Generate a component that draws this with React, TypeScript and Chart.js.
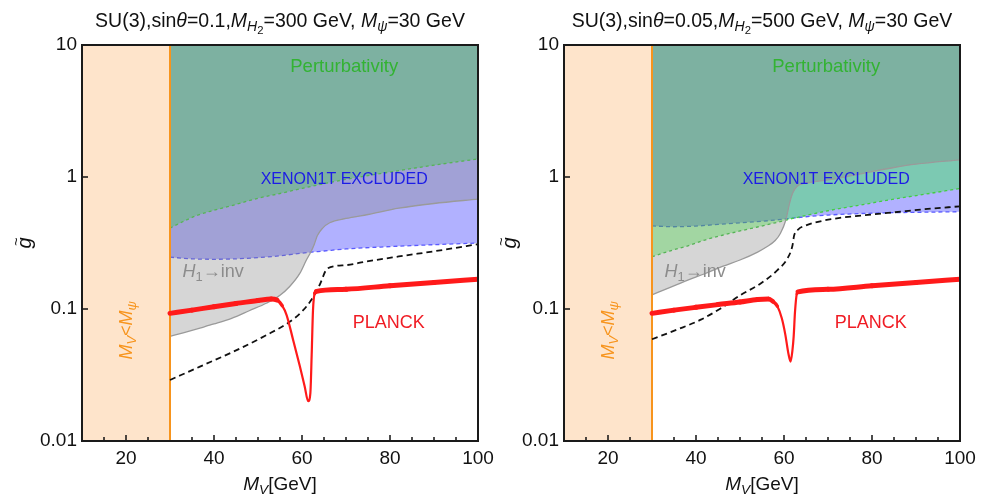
import React, { useEffect, useRef } from "react";
import { Chart, registerables } from "chart.js";

Chart.register(...registerables);

const FONT = '"Liberation Sans", Arial, Helvetica, sans-serif';

// Shared axes
const MV_MIN = 10;
const MV_MAX = 100;
const G_MIN = 0.01;
const G_MAX = 10;
const xLabelTicks = [20, 40, 60, 80, 100];
const xMinorTicks = [15, 25, 35, 45, 50, 55, 65, 70, 75, 85, 90, 95];
const yLabelTicks = [0.01, 0.1, 1, 10];
const M_PSI = 30;

// Panel A: sinθ = 0.1, M_H2 = 300 GeV
const aPertMV = [30, 33, 36, 40, 45, 50, 55, 60, 65, 70, 80, 90, 100];
const aPertG = [0.41, 0.46, 0.51, 0.56, 0.62, 0.69, 0.75, 0.82, 0.89, 0.96, 1.09, 1.23, 1.37];
const aXenonMV = [30, 35, 40, 45, 50, 55, 60, 65, 70, 80, 90, 100];
const aXenonG = [0.247, 0.24, 0.238, 0.24, 0.245, 0.253, 0.265, 0.275, 0.285, 0.297, 0.307, 0.316];
const aInvMV = [30, 33, 37, 40, 44, 48, 52, 55, 57.2, 59.5, 61, 62, 62.8, 63.5, 64.7, 66.3, 70, 75, 82, 90, 100];
const aInvG = [0.062, 0.066, 0.072, 0.077, 0.085, 0.097, 0.111, 0.127, 0.148, 0.186, 0.235, 0.27, 0.31, 0.36, 0.41, 0.45, 0.485, 0.52, 0.58, 0.63, 0.68];
const aDashMV = [30, 36.8, 44.4, 52, 57.2, 59.9, 62.1, 64, 65.8, 70, 74.6, 82, 92, 100];
const aDashG = [0.029, 0.0366, 0.0475, 0.0636, 0.08, 0.095, 0.117, 0.152, 0.203, 0.215, 0.229, 0.25, 0.28, 0.31];
const aPlanckMV = [30, 35, 40, 45, 50, 53, 54.3, 55.5, 56.5, 58, 59.5, 60.6, 61.4, 61.9, 62.2, 62.5, 62.9, 63.3, 70, 80, 90, 100];
const aPlanckG = [0.0927, 0.098, 0.104, 0.11, 0.116, 0.119, 0.117, 0.106, 0.09, 0.058, 0.037, 0.026, 0.02, 0.023, 0.045, 0.098, 0.132, 0.136, 0.141, 0.15, 0.159, 0.168];

// Panel B: sinθ = 0.05, M_H2 = 500 GeV
const bPertMV = [30, 34, 38, 42, 46, 50, 54, 58, 62, 66, 70, 77, 85, 92, 100];
const bPertG = [0.249, 0.275, 0.3, 0.333, 0.362, 0.39, 0.418, 0.45, 0.485, 0.52, 0.555, 0.61, 0.68, 0.74, 0.82];
const bXenonMV = [30, 35, 40, 45, 50, 55, 60, 65, 70, 80, 90, 100];
const bXenonG = [0.426, 0.42, 0.425, 0.437, 0.45, 0.462, 0.48, 0.5, 0.515, 0.532, 0.54, 0.546];
const bInvMV = [30, 34, 38, 42, 46, 50, 54, 56, 58, 59.2, 60.4, 61.2, 62, 63, 66, 70, 75, 80, 85, 90, 100];
const bInvG = [0.128, 0.145, 0.165, 0.185, 0.21, 0.235, 0.27, 0.295, 0.33, 0.375, 0.47, 0.62, 0.76, 0.85, 0.91, 0.95, 1.02, 1.1, 1.18, 1.25, 1.35];
const bDashMV = [30, 35.8, 41.1, 45.6, 50.2, 54.7, 58.5, 60.8, 61.9, 62.3, 63.2, 65, 68, 72.7, 77.4, 85, 92, 100];
const bDashG = [0.059, 0.07, 0.083, 0.101, 0.128, 0.156, 0.197, 0.242, 0.3, 0.36, 0.4, 0.43, 0.46, 0.49, 0.51, 0.54, 0.57, 0.6];
const bPlanckMV = [30, 35, 40, 45, 50, 54, 56.5, 57.5, 58.5, 59.5, 60.3, 61, 61.5, 61.9, 62.2, 62.5, 62.9, 63.2, 70, 80, 90, 100];
const bPlanckG = [0.0927, 0.098, 0.103, 0.108, 0.113, 0.118, 0.119, 0.114, 0.105, 0.085, 0.064, 0.046, 0.04, 0.048, 0.062, 0.095, 0.13, 0.135, 0.141, 0.15, 0.159, 0.168];

type Part = { t: string; it?: boolean; lv?: number };
type Label = { parts: Part[]; mv: number; g: number; size: number; color: string; rotate?: boolean };

const LV_SCALE = [1, 0.72, 0.58];
const LV_DROP = [0, 0.22, 0.36];

const fontOf = (p: Part, size: number) =>
  `${p.it ? "italic " : ""}${(size * LV_SCALE[p.lv ?? 0]).toFixed(2)}px ${FONT}`;

function richWidth(ctx: CanvasRenderingContext2D, parts: Part[], size: number) {
  let w = 0;
  for (const p of parts) {
    ctx.font = fontOf(p, size);
    w += ctx.measureText(p.t).width;
  }
  return w;
}

function drawRich(
  ctx: CanvasRenderingContext2D,
  parts: Part[],
  cx: number,
  baseline: number,
  size: number,
  color: string
) {
  let x = cx - richWidth(ctx, parts, size) / 2;
  ctx.fillStyle = color;
  ctx.textAlign = "left";
  ctx.textBaseline = "alphabetic";
  for (const p of parts) {
    ctx.font = fontOf(p, size);
    ctx.fillText(p.t, x, baseline + size * LV_DROP[p.lv ?? 0]);
    x += ctx.measureText(p.t).width;
  }
}

const zip = (xs: number[], ys: number[]) => xs.map((x, i) => ({ x, y: ys[i] }));

const sharedLabels: Label[] = [
  { parts: [{ t: "Perturbativity" }], mv: 69.6, g: 7.05, size: 18.5, color: "#33b333" },
  { parts: [{ t: "XENON1T EXCLUDED" }], mv: 69.6, g: 0.98, size: 16, color: "#1c1ce6" },
  { parts: [{ t: "PLANCK" }], mv: 79.7, g: 0.081, size: 18, color: "#f01c24" },
  {
    parts: [{ t: "H", it: true }, { t: "1", lv: 1 }, { t: "\u2192inv" }],
    mv: 39.8,
    g: 0.197,
    size: 18,
    color: "#8c8c8c",
  },
  {
    parts: [
      { t: "M", it: true },
      { t: "V", it: true, lv: 1 },
      { t: "<" },
      { t: "M", it: true },
      { t: "\u03c8", it: true, lv: 1 },
    ],
    mv: 19.85,
    g: 0.069,
    size: 18,
    color: "#f7941d",
    rotate: true,
  },
];

type Panel = {
  sinT: string;
  mH2: string;
  padRight: number;
  axisLeft: number;
  yTitleGap: number;
  pert: [number[], number[]];
  xenon: [number[], number[]];
  inv: [number[], number[]];
  dash: [number[], number[]];
  planck: [number[], number[]];
};

const panels: Panel[] = [
  {
    sinT: "0.1",
    mH2: "300",
    padRight: 16,
    axisLeft: 82,
    yTitleGap: 55,
    pert: [aPertMV, aPertG],
    xenon: [aXenonMV, aXenonG],
    inv: [aInvMV, aInvG],
    dash: [aDashMV, aDashG],
    planck: [aPlanckMV, aPlanckG],
  },
  {
    sinT: "0.05",
    mH2: "500",
    padRight: 28,
    axisLeft: 70,
    yTitleGap: 52,
    pert: [bPertMV, bPertG],
    xenon: [bXenonMV, bXenonG],
    inv: [bInvMV, bInvG],
    dash: [bDashMV, bDashG],
    planck: [bPlanckMV, bPlanckG],
  },
];

function makeDecor(panel: Panel) {
  const title: Part[] = [
    { t: "SU(3),sin" },
    { t: "\u03b8", it: true },
    { t: `=${panel.sinT},` },
    { t: "M", it: true },
    { t: "H", it: true, lv: 1 },
    { t: "2", lv: 2 },
    { t: `=${panel.mH2} GeV, ` },
    { t: "M", it: true },
    { t: "\u03c8", it: true, lv: 1 },
    { t: "=30 GeV" },
  ];
  const xTitle: Part[] = [{ t: "M", it: true }, { t: "V", it: true, lv: 1 }, { t: "[GeV]" }];
  return {
    id: "panelDecor",
    afterDatasetsDraw(chart: any) {
      const { ctx, chartArea: a, scales } = chart;
      const xs = scales.x;
      const ys = scales.y;
      ctx.save();
      // inward tick marks
      ctx.strokeStyle = "#111";
      ctx.lineWidth = 1.5;
      for (const v of [...xLabelTicks, ...xMinorTicks]) {
        if (v >= MV_MAX) continue;
        const px = xs.getPixelForValue(v);
        const len = xLabelTicks.includes(v) ? 6 : 4;
        ctx.beginPath();
        ctx.moveTo(px, a.bottom);
        ctx.lineTo(px, a.bottom - len);
        ctx.stroke();
      }
      for (const v of yLabelTicks) {
        if (v <= G_MIN || v >= G_MAX) continue;
        const py = ys.getPixelForValue(v);
        ctx.beginPath();
        ctx.moveTo(a.left, py);
        ctx.lineTo(a.left + 6, py);
        ctx.stroke();
      }
      // frame
      ctx.lineWidth = 2;
      ctx.strokeStyle = "#1a1a1a";
      ctx.strokeRect(a.left, a.top, a.right - a.left, a.bottom - a.top);
      // region labels
      for (const lab of sharedLabels) {
        const px = xs.getPixelForValue(lab.mv);
        const py = ys.getPixelForValue(lab.g);
        if (lab.rotate) {
          ctx.save();
          ctx.translate(px, py);
          ctx.rotate(-Math.PI / 2);
          drawRich(ctx, lab.parts, 0, lab.size * 0.36, lab.size, lab.color);
          ctx.restore();
        } else {
          drawRich(ctx, lab.parts, px, py + lab.size * 0.36, lab.size, lab.color);
        }
      }
      // title and axis titles
      const cx = (a.left + a.right) / 2;
      drawRich(ctx, title, cx, 26.5, 19.5, "#111");
      drawRich(ctx, xTitle, cx, 490, 19, "#111");
      ctx.save();
      ctx.translate(a.left - panel.yTitleGap, (a.top + a.bottom) / 2);
      ctx.rotate(-Math.PI / 2);
      ctx.fillStyle = "#111";
      ctx.textAlign = "center";
      ctx.textBaseline = "alphabetic";
      ctx.font = `italic 20px ${FONT}`;
      ctx.fillText("g", 0, 4);
      ctx.font = `15px ${FONT}`;
      ctx.fillText("~", 1.5, -6);
      ctx.restore();
      ctx.restore();
    },
  };
}

function makeConfig(panel: Panel): any {
  return {
    type: "line",
    data: {
      datasets: [
        {
          label: "PLANCK",
          data: zip(panel.planck[0], panel.planck[1]),
          borderColor: "#ff1a1a",
          borderWidth: 5,
          borderCapStyle: "round",
          borderJoinStyle: "round",
          cubicInterpolationMode: "monotone",
          pointRadius: 0,
          fill: false,
          order: 0,
          segment: {
            borderWidth: (c: any) => {
              const dx = Math.abs(c.p1.x - c.p0.x);
              const dy = Math.abs(c.p1.y - c.p0.y);
              const len = Math.hypot(dx, dy) || 1;
              return Math.max(2.2, (5 * dx) / len);
            },
          },
        },
        {
          label: "relic",
          data: zip(panel.dash[0], panel.dash[1]),
          borderColor: "#111",
          borderWidth: 1.8,
          borderDash: [6, 4],
          cubicInterpolationMode: "monotone",
          pointRadius: 0,
          fill: false,
          order: 0,
        },
        {
          label: "Mpsi",
          data: [
            { x: M_PSI, y: G_MIN },
            { x: M_PSI, y: G_MAX },
          ],
          borderColor: "#f7941d",
          borderWidth: 2,
          pointRadius: 0,
          fill: false,
          order: 0,
        },
        {
          label: "H1 inv",
          data: zip(panel.inv[0], panel.inv[1]),
          borderColor: "#9a9a9a",
          borderWidth: 1.3,
          backgroundColor: "rgba(128,128,128,0.32)",
          cubicInterpolationMode: "monotone",
          pointRadius: 0,
          fill: "end",
          order: 1,
        },
        {
          label: "Perturbativity",
          data: zip(panel.pert[0], panel.pert[1]),
          borderColor: "#44cc44",
          borderWidth: 1.3,
          borderDash: [3, 3],
          backgroundColor: "rgba(0,255,0,0.3)",
          cubicInterpolationMode: "monotone",
          pointRadius: 0,
          fill: "end",
          order: 2,
        },
        {
          label: "XENON1T",
          data: zip(panel.xenon[0], panel.xenon[1]),
          borderColor: "#5a5aff",
          borderWidth: 1.3,
          borderDash: [4, 3],
          backgroundColor: "rgba(0,0,255,0.306)",
          cubicInterpolationMode: "monotone",
          pointRadius: 0,
          fill: "end",
          order: 3,
        },
        {
          label: "MV<Mpsi",
          data: [
            { x: MV_MIN, y: G_MAX },
            { x: M_PSI, y: G_MAX },
          ],
          borderWidth: 0,
          backgroundColor: "#fee4cb",
          pointRadius: 0,
          fill: "start",
          order: 4,
        },
      ],
    },
    options: {
      responsive: false,
      animation: false,
      devicePixelRatio: 1,
      events: [],
      layout: { padding: { left: 0, top: 45, right: panel.padRight, bottom: 0 } },
      plugins: { legend: { display: false }, tooltip: { enabled: false }, title: { display: false } },
      scales: {
        x: {
          type: "linear",
          min: MV_MIN,
          max: MV_MAX,
          grid: { display: false, drawTicks: false },
          border: { display: false },
          ticks: {
            padding: 6,
            color: "#111",
            font: { family: FONT, size: 19 },
            callback: (v: number) => String(v),
          },
          afterBuildTicks: (s: any) => {
            s.ticks = xLabelTicks.map((value) => ({ value }));
          },
          afterFit: (s: any) => {
            s.height = 58;
            s.paddingLeft = 0;
            s.paddingRight = 0;
          },
        },
        y: {
          type: "logarithmic",
          min: G_MIN,
          max: G_MAX,
          grid: { display: false, drawTicks: false },
          border: { display: false },
          ticks: {
            padding: 5,
            color: "#111",
            font: { family: FONT, size: 19 },
            callback: (v: number) => String(v),
          },
          afterBuildTicks: (s: any) => {
            s.ticks = yLabelTicks.map((value) => ({ value }));
          },
          afterFit: (s: any) => {
            s.width = panel.axisLeft;
            s.paddingTop = 0;
            s.paddingBottom = 0;
          },
        },
      },
    },
    plugins: [makeDecor(panel)],
  };
}

function PanelChart({ panel }: { panel: Panel }) {
  const ref = useRef<HTMLCanvasElement | null>(null);
  useEffect(() => {
    if (!ref.current) return;
    const chart = new Chart(ref.current, makeConfig(panel));
    return () => chart.destroy();
  }, [panel]);
  return <canvas ref={ref} width={494} height={499} style={{ display: "block", width: 494, height: 499 }} />;
}

export default function App() {
  return (
    <div
      style={{
        position: "absolute",
        left: 0,
        top: 0,
        width: 988,
        height: 499,
        display: "flex",
        background: "#fff",
      }}
    >
      {panels.map((p, i) => (
        <PanelChart key={i} panel={p} />
      ))}
    </div>
  );
}
